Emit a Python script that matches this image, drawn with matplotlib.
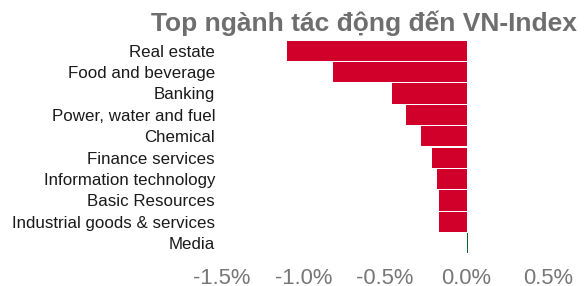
import numpy as np
import matplotlib.pyplot as plt
from matplotlib.ticker import FuncFormatter

plt.rcParams['font.family'] = ['Liberation Sans', 'DejaVu Sans']

sectors = ['Real estate', 'Food and beverage', 'Banking', 'Power, water and fuel',
           'Chemical', 'Finance services', 'Information technology',
           'Basic Resources', 'Industrial goods & services', 'Media']
impact = [-1.10, -0.82, -0.46, -0.37, -0.28, -0.21, -0.18, -0.17, -0.17, 0.01]
xticks = [-1.5, -1.0, -0.5, 0.0, 0.5]

red = '#d0002a'
green = '#006b2a'

fig = plt.figure(figsize=(5.86, 2.86), dpi=100)
ax = fig.add_axes([222 / 586, 1 - 254 / 286, 326 / 586, 214 / 286])

y = np.arange(len(sectors))
colors = [red if v < 0 else green for v in impact]
ax.barh(y, impact, height=0.94, color=colors)

ax.set_xlim(-1.5, 0.5)
ax.set_ylim(len(sectors) - 0.5, -0.5)
ax.set_yticks(y)
ax.set_yticklabels(sectors, fontsize=12.2, color='#1a1a1a')
ax.set_xticks(xticks)
ax.xaxis.set_major_formatter(FuncFormatter(lambda v, p: f'{v:.1f}%'))
ax.tick_params(axis='x', labelsize=15.8, colors='#777777', length=0, pad=10)
ax.tick_params(axis='y', length=0, pad=5)
for s in ax.spines.values():
    s.set_visible(False)

fig.text(364 / 586, 1 - 31 / 286, 'Top ngành tác động đến VN-Index', ha='center', va='baseline',
         fontsize=19, fontweight='bold', color='#6e6e6e')

fig.savefig('out.png', dpi=100)
